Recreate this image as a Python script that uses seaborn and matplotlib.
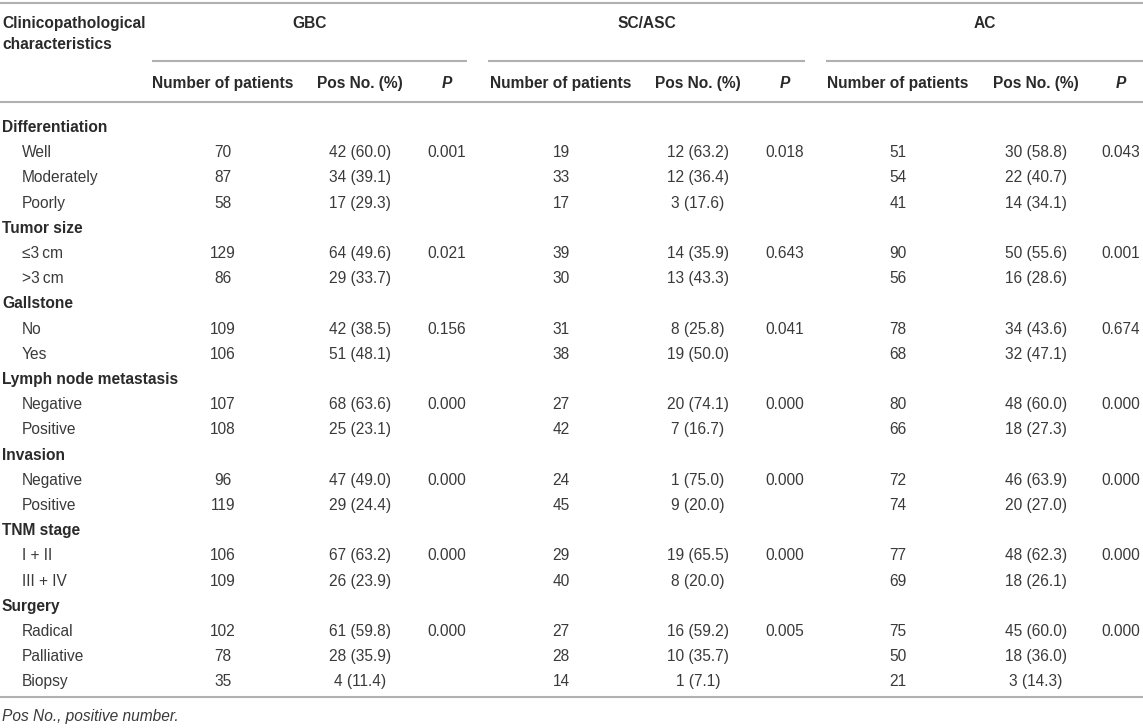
import matplotlib
matplotlib.use("Agg")
import matplotlib.pyplot as plt
import seaborn as sns

# ---- table content ----
groups = ["GBC", "SC/ASC", "AC"]
sub_headers = ["Number of patients", "Pos No. (%)", "P"]

categories = ["Differentiation", "Tumor size", "Gallstone", "Lymph node metastasis",
              "Invasion", "TNM stage", "Surgery"]
subitems = [
    ["Well", "Moderately", "Poorly"],
    ["\u22643\u2009cm", ">3\u2009cm"],
    ["No", "Yes"],
    ["Negative", "Positive"],
    ["Negative", "Positive"],
    ["I + II", "III + IV"],
    ["Radical", "Palliative", "Biopsy"],
]

gbc_n = [70, 87, 58, 129, 86, 109, 106, 107, 108, 96, 119, 106, 109, 102, 78, 35]
gbc_pos = [42, 34, 17, 64, 29, 42, 51, 68, 25, 47, 29, 67, 26, 61, 28, 4]
gbc_pct = [60.0, 39.1, 29.3, 49.6, 33.7, 38.5, 48.1, 63.6, 23.1, 49.0, 24.4, 63.2, 23.9, 59.8, 35.9, 11.4]
gbc_p = ["0.001", "0.021", "0.156", "0.000", "0.000", "0.000", "0.000"]

sc_n = [19, 33, 17, 39, 30, 31, 38, 27, 42, 24, 45, 29, 40, 27, 28, 14]
sc_pos = [12, 12, 3, 14, 13, 8, 19, 20, 7, 1, 9, 19, 8, 16, 10, 1]
sc_pct = [63.2, 36.4, 17.6, 35.9, 43.3, 25.8, 50.0, 74.1, 16.7, 75.0, 20.0, 65.5, 20.0, 59.2, 35.7, 7.1]
sc_p = ["0.018", "0.643", "0.041", "0.000", "0.000", "0.000", "0.005"]

ac_n = [51, 54, 41, 90, 56, 78, 68, 80, 66, 72, 74, 77, 69, 75, 50, 21]
ac_pos = [30, 22, 14, 50, 16, 34, 32, 48, 18, 46, 20, 48, 18, 45, 18, 3]
ac_pct = [58.8, 40.7, 34.1, 55.6, 28.6, 43.6, 47.1, 60.0, 27.3, 63.9, 27.0, 62.3, 26.1, 60.0, 36.0, 14.3]
ac_p = ["0.043", "0.001", "0.674", "0.000", "0.000", "0.000", "0.000"]

footnote = "Pos No., positive number."

group_data = [
    (gbc_n, gbc_pos, gbc_pct, gbc_p),
    (sc_n, sc_pos, sc_pct, sc_p),
    (ac_n, ac_pos, ac_pct, ac_p),
]


def main():
    sns.set_theme(style="white")
    plt.rcParams["font.family"] = ["Liberation Sans", "DejaVu Sans"]

    W, H = 1143, 728
    fig = plt.figure(figsize=(W / 100, H / 100), dpi=100)
    ax = fig.add_axes([0, 0, 1, 1])
    ax.set_xlim(0, W)
    ax.set_ylim(H, 0)
    ax.axis("off")

    fs = 11.2
    bold_c = "#2a2a2a"
    txt_c = "#3a3a3a"
    line_c = "#b0b0b0"

    # column layout
    col_x = [[223, 360, 447], [561, 698, 785], [898, 1036, 1121]]
    group_span = [(152, 467), (488, 805), (826, 1143)]

    # rules
    ax.hlines([3, 102, 697], 0, W, color=line_c, lw=1.5)
    for x0, x1 in group_span:
        ax.hlines(61, x0, x1, color=line_c, lw=1.5)

    # headers
    ax.text(2, 22, "Clinicopathological", fontsize=fs, fontweight="bold",
            color=bold_c, va="center_baseline")
    ax.text(2, 43, "characteristics", fontsize=fs, fontweight="bold",
            color=bold_c, va="center_baseline")
    for g, (x0, x1) in zip(groups, group_span):
        ax.text((x0 + x1) / 2, 22, g, fontsize=fs, fontweight="bold",
                color=bold_c, ha="center", va="center_baseline")
    for cx in col_x:
        for x, h in zip(cx, sub_headers):
            ax.text(x, 82, h, fontsize=fs, fontweight="bold", color=bold_c,
                    ha="center", va="center_baseline",
                    fontstyle="italic" if h == "P" else "normal")

    # body
    y = 126
    step = 25.2
    k = 0
    for ci, (cat, items) in enumerate(zip(categories, subitems)):
        ax.text(2, y, cat, fontsize=fs, fontweight="bold", color=bold_c,
                va="center_baseline")
        y += step
        for j, item in enumerate(items):
            ax.text(22, y, item, fontsize=fs, color=txt_c, va="center_baseline")
            for cx, (n, pos, pct, pv) in zip(col_x, group_data):
                ax.text(cx[0], y, str(n[k]), fontsize=fs, color=txt_c,
                        ha="center", va="center_baseline")
                ax.text(cx[1], y, f"{pos[k]} ({pct[k]:.1f})", fontsize=fs,
                        color=txt_c, ha="center", va="center_baseline")
                if j == 0:
                    ax.text(cx[2], y, pv[ci], fontsize=fs, color=txt_c,
                            ha="center", va="center_baseline")
            y += step
            k += 1

    ax.text(2, 715, footnote, fontsize=fs, fontstyle="italic", color=txt_c,
            va="center_baseline")

    fig.savefig("out.png", dpi=100)
    plt.close(fig)


if __name__ == "__main__":
    main()
